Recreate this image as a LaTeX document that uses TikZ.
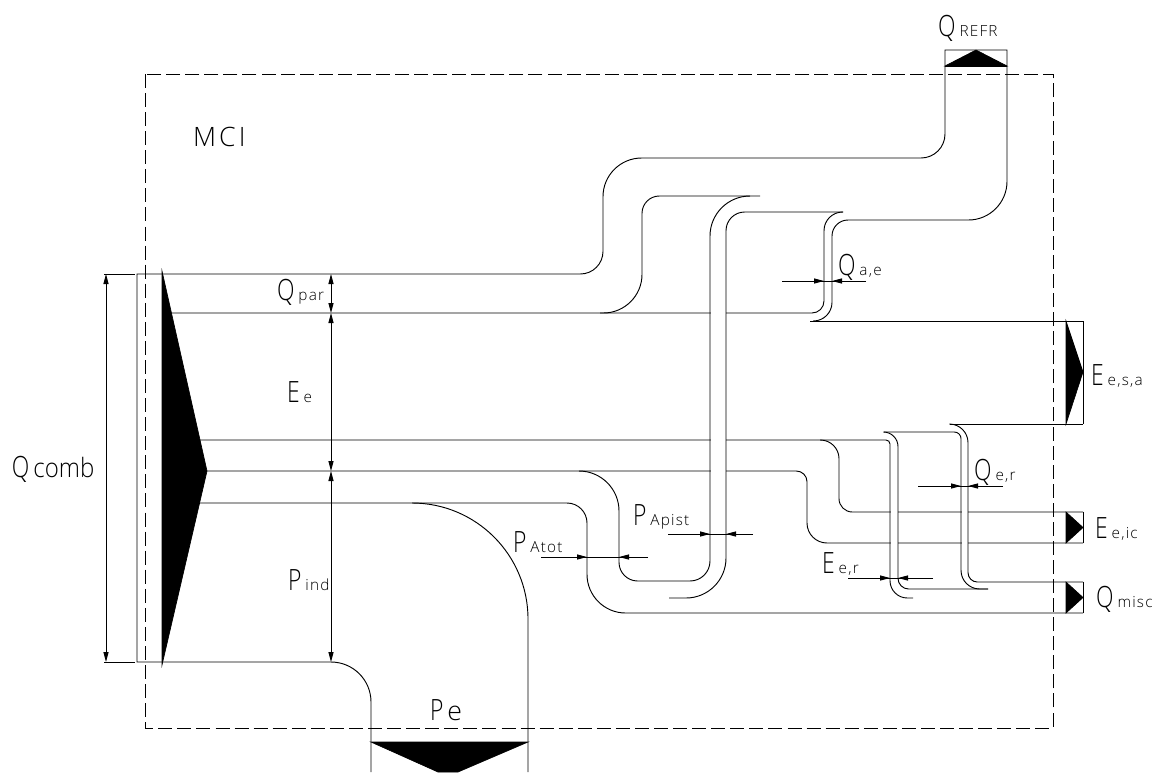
\documentclass[tikz,border=0pt]{standalone}
\usepackage{fontspec}
\setmainfont{Open Sans Light}
\usepackage{graphicx}
\usetikzlibrary{arrows.meta}
\newcommand{\bigtxt}[1]{\scalebox{0.78}[1]{\fontsize{22}{22}\selectfont #1}}
\newcommand{\subtxt}[1]{\hspace{3pt}{\fontsize{11.5}{11.5}\selectfont\addfontfeatures{LetterSpace=8}#1}}

\begin{document}
\begin{tikzpicture}[
  x=0.75pt,y=-0.75pt,
  flow/.style={line width=0.7pt,black},
  rc/.style={rounded corners=#1},
  wedge/.style={fill=black,draw=black,line width=0.5pt},
  dim/.style={line width=0.7pt,{Triangle[length=7.5pt,width=3.8pt]}-{Triangle[length=7.5pt,width=3.8pt]}},
  dimr/.style={line width=0.7pt,-{Triangle[length=7.5pt,width=3.8pt]}},
  lbl/.style={anchor=base west,inner sep=0pt,outer sep=0pt}
]
\useasboundingbox (0,0) rectangle (1155,772);

% Engine boundary
\draw[line width=0.7pt,dash pattern=on 10.5pt off 3.8pt] (145,74) rectangle (1053,728);

% Wedges
\fill[wedge] (162,271) -- (207,471) -- (162,665) -- cycle;
\fill[wedge] (945,66) -- (976,50) -- (1007,66) -- cycle;
\fill[wedge] (371,742) -- (528,742) -- (458,772) -- (438,772) -- cycle;
\fill[wedge] (1066,321) -- (1083,372) -- (1066,424) -- cycle;
\fill[wedge] (1066,512) -- (1083,527.5) -- (1066,543) -- cycle;
\fill[wedge] (1066,582) -- (1083,597.5) -- (1066,613) -- cycle;

% Horizontal streams
\draw[flow] (162,662) -- (137,662) -- (137,274) [rc=17pt] -- (603,274) [rc=29pt] -- (603,158) [rc=18pt] -- (945,158) [sharp corners] -- (945,50) -- (1007,50) [rc=29pt] -- (1007,220) [rc=12pt] -- (832,220) [rc=14pt] -- (832,321) -- (813,321);
\draw[flow] (810,321) -- (1083,321);
\draw[flow] (171,313) [rc=9pt] -- (824,313) [rc=14pt] -- (824,212) -- (843,212);
\draw[flow] (600,313) [rc=29pt] -- (642,313) [rc=13pt] -- (642,196) -- (760,196);
\draw[flow] (207,471) [rc=8pt] -- (807,471) [rc=15pt] -- (807,543) -- (1083,543);
\draw[flow] (200,440) [rc=3pt] -- (890,440) [rc=13pt] -- (890,598) -- (913,598);
\draw[flow] (820,440) [rc=14pt] -- (839,440) [rc=10pt] -- (839,512) -- (1083,512);
\draw[flow] (199,503) [rc=15pt] -- (587,503) [rc=29pt] -- (587,613) -- (1083,613);
\draw[flow] (412,503) [rc=87pt] -- (528,503) -- (528,772);
\draw[flow] (162,662) [rc=30pt] -- (371,662) -- (371,772);
\draw[flow] (1007,66) -- (945,66);

% Clear bands under the losses
\fill[white] (710.5,290) rectangle (725.5,500);
\fill[white] (890.5,505) rectangle (897.5,550);
\fill[white] (961.5,505) rectangle (967.5,550);

% Loss bands
\draw[flow] (750,196) [rc=30pt] -- (710,196) [rc=15pt] -- (710,581) [rc=14pt] -- (619,581) [rc=30pt] -- (619,471) -- (580,471);
\draw[flow] (843,212) [rc=14pt] -- (726,212) [rc=30pt] -- (726,598) -- (669,598);
\draw[flow] (884,432) [rc=11pt] -- (898,432) [rc=8pt] -- (898,589) -- (988,589);
\draw[flow] (884,432) [rc=5pt] -- (961,432) [rc=14pt] -- (961,589) -- (988,589);
\draw[flow] (950,424) [rc=14pt] -- (968,424) [rc=7pt] -- (968,582) -- (1083,582);
\draw[flow] (950,424) -- (1083,424);

% Outlet boxes
\draw[flow] (1083,321) -- (1083,424);
\draw[flow] (1083,512) -- (1083,543);
\draw[flow] (1083,582) -- (1083,613);

% Dimensions
\draw[flow] (104,274) -- (135,274);
\draw[flow] (104,662) -- (135,662);
\draw[dim] (106,274) -- (106,662);
\draw[dim] (331,274) -- (331,313);
\draw[dim] (331,313) -- (331,471);
\draw[dim] (331,471) -- (331,662);

\draw[flow] (782,281) -- (866,281);
\draw[dimr] (782,281) -- (824,281);
\draw[dimr] (866,281) -- (832,281);
\draw[flow] (918,486) -- (1003,486);
\draw[dimr] (918,486) -- (961,486);
\draw[dimr] (1003,486) -- (968,486);
\draw[flow] (848,578) -- (933,578);
\draw[dimr] (848,578) -- (890,578);
\draw[dimr] (933,578) -- (898,578);
\draw[flow] (668,534) -- (753,534);
\draw[dimr] (668,534) -- (710,534);
\draw[dimr] (753,534) -- (726,534);
\draw[flow] (541,557) -- (648,557);
\draw[dimr] (541,557) -- (587,557);
\draw[dimr] (648,557) -- (619,557);

% Labels
\node[lbl] (mci) at (193,146) {\fontsize{20}{20}\selectfont\addfontfeatures{LetterSpace=12}MCI};
\node[lbl] (qrefr) at (938,36) {\bigtxt{Q}\subtxt{REFR}};
\node[lbl] (qpar) at (277,300) {\bigtxt{Q}\subtxt{par}};
\node[lbl] (ee) at (287,402) {\bigtxt{E}\subtxt{e}};
\node[lbl] (qcomb) at (12,477) {\bigtxt{Q}\hspace{3pt}\scalebox{0.9}[1]{\fontsize{20}{20}\selectfont comb}};
\node[lbl] (pind) at (288,590) {\bigtxt{P}\subtxt{ind}};
\node[lbl] (pe) at (430,720) {\bigtxt{P}\hspace{3pt}{\fontsize{20}{20}\selectfont e}};
\node[lbl] (patot) at (513,552) {\bigtxt{P}\subtxt{Atot}};
\node[lbl] (papist) at (633,525) {\bigtxt{P}\subtxt{Apist}};
\node[lbl] (qae) at (838,275) {\bigtxt{Q}\subtxt{a,e}};
\node[lbl] (eesa) at (1091,385) {\bigtxt{E}\subtxt{e,s,a}};
\node[lbl] (qer) at (974,480) {\bigtxt{Q}\subtxt{e,r}};
\node[lbl] (eeic) at (1095,538) {\bigtxt{E}\subtxt{e,ic}};
\node[lbl] (qmisc) at (1096,607) {\bigtxt{Q}\subtxt{misc}};
\node[lbl] (eer) at (822,573) {\bigtxt{E}\subtxt{e,r}};

\end{tikzpicture}
\end{document}
